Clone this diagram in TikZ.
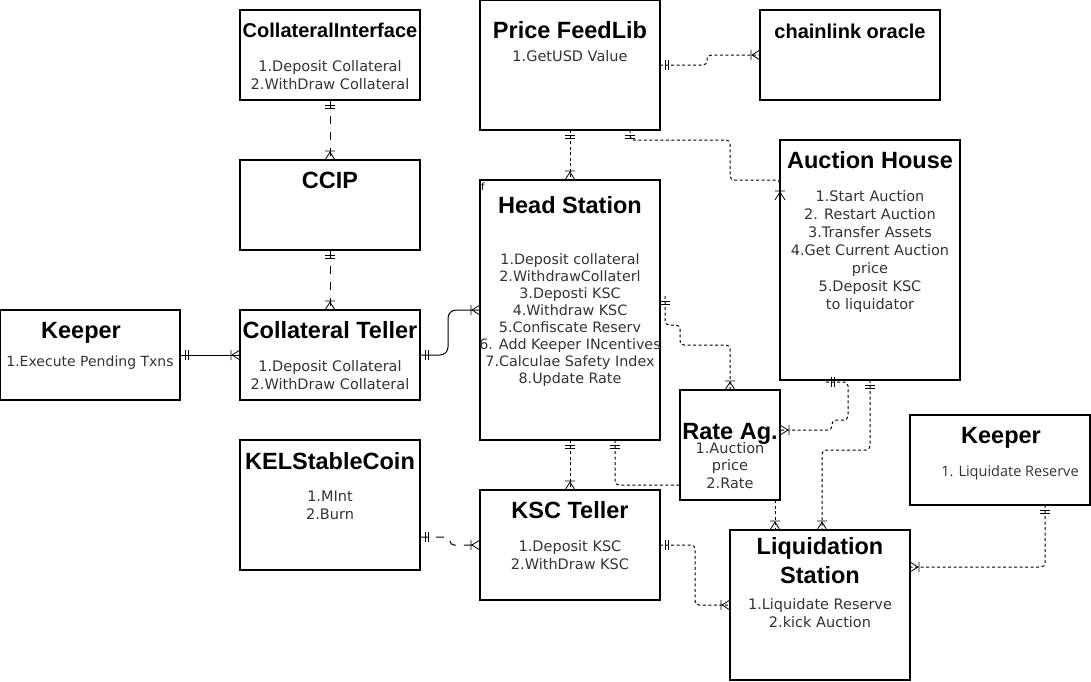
\documentclass[tikz,border=0pt]{standalone}
\usepackage{fontspec}
\setmainfont{DejaVu Sans}
\newfontfamily\titlefont{Liberation Sans}
\newfontfamily\keeperfont{Open Sans}
\usetikzlibrary{decorations.markings,calc}
\tikzset{
  box/.style={draw, line width=1.1pt, inner sep=0pt, outer sep=0pt, anchor=north west},
  ttl/.style={font=\titlefont\bfseries\fontsize{23.5}{28}\selectfont, anchor=base, inner sep=0pt, align=center},
  ttlsmall/.style={font=\titlefont\bfseries\fontsize{20}{24}\selectfont, anchor=base, inner sep=0pt},
  body/.style={font=\fontsize{14.5}{18}\selectfont, text=black!80, align=center, anchor=base, inner sep=0pt},
  conn/.style={line width=1pt, rounded corners=4pt},
  dsh/.style={dash pattern=on 3pt off 2.5pt},
  ldsh/.style={dash pattern=on 8pt off 8pt},
  mone/.style={postaction={decorate, decoration={markings,
      mark=at position 0 with {\draw[solid, line width=0.8pt] (5,-5)--(5,5) (8,-5)--(8,5);}}}},
  cfoot/.style={postaction={decorate, decoration={markings,
      mark=at position 1 with {\draw[solid, line width=0.8pt] (-8,0)--(0,5) (-8,0)--(0,-5) (-9,-5)--(-9,5);}}}},
}
\begin{document}
\begin{tikzpicture}[x=1pt, y=-1pt]
\useasboundingbox (0,0) rectangle (1091,681);
% boxes
\node[box, minimum width=180, minimum height=90]  (ci)   at (240,10)  {};
\node[box, minimum width=180, minimum height=130] (pf)   at (480,0)   {};
\node[box, minimum width=180, minimum height=90]  (cl)   at (760,10)  {};
\node[box, minimum width=180, minimum height=90]  (ccip) at (240,160) {};
\node[box, minimum width=180, minimum height=260] (hs)   at (480,180) {};
\node[box, minimum width=180, minimum height=240] (ah)   at (780,140) {};
\node[box, minimum width=180, minimum height=90]  (kl)   at (0,310)   {};
\node[box, minimum width=180, minimum height=90]  (ct)   at (240,310) {};
\node[box, minimum width=100, minimum height=110] (ra)   at (680,390) {};
\node[box, minimum width=180, minimum height=90]  (kr)   at (910,415) {};
\node[box, minimum width=180, minimum height=130] (kel)  at (240,440) {};
\node[box, minimum width=180, minimum height=110] (ksc)  at (480,490) {};
\node[box, minimum width=180, minimum height=150] (ls)   at (730,530) {};
% texts (anchor base = baseline of the last line)
\node[ttlsmall] (ciT) at (330,37) {CollateralInterface};
\node[body] (ciB) at (330,89) {1.Deposit Collateral\\2.WithDraw Collateral};
\node[ttl] (pfT) at (570,38) {Price FeedLib};
\node[body] (pfB) at (570,61) {1.GetUSD Value};
\node[ttlsmall] (clT) at (850,38) {chainlink oracle};
\node[ttl] (ccipT) at (330,188) {CCIP};
\node[font=\fontsize{10}{12}\selectfont, anchor=base, inner sep=0pt] (hsF) at (483,190) {f};
\node[ttl] (hsT) at (570,213) {Head Station};
\node[body, font=\fontsize{14.3}{16.9}\selectfont] (hsB) at (570,383) {1.Deposit collateral\\2.WithdrawCollaterl\\3.Deposti KSC\\4.Withdraw KSC\\5.Confiscate Reserv\\6. Add Keeper INcentives\\7.Calculae Safety Index\\8.Update Rate};
\node[ttl] (ahT) at (870,168) {Auction House};
\node[body] (ahB) at (870,309) {1.Start Auction\\2. Restart Auction\\3.Transfer Assets\\4.Get Current Auction\\price\\5.Deposit KSC\\to liquidator};
\node[ttl] (klT) at (81,338) {Keeper};
\node[body, font=\fontsize{14}{18}\selectfont] (klB) at (90,366) {1.Execute Pending Txns};
\node[ttl] (ctT) at (330,338) {Collateral Teller};
\node[body] (ctB) at (330,389) {1.Deposit Collateral\\2.WithDraw Collateral};
\node[ttl] (raT) at (730,439) {Rate Ag.};
\node[body, font=\fontsize{14.5}{17.5}\selectfont] (raB) at (730,488) {1.Auction\\price\\2.Rate};
\node[ttl] (krT) at (1001,443) {Keeper};
\node[body, font=\keeperfont\fontsize{14.5}{18}\selectfont] (krB) at (1010,476) {1. Liquidate Reserve};
\node[ttl] (kelT) at (330,469) {KELStableCoin};
\node[body] (kelB) at (330,519) {1.MInt\\2.Burn};
\node[ttl] (kscT) at (570,518) {KSC Teller};
\node[body] (kscB) at (570,569) {1.Deposit KSC\\2.WithDraw KSC};
\node[ttl, font=\titlefont\bfseries\fontsize{23.5}{29}\selectfont] (lsT) at (820,583) {Liquidation\\Station};
\node[body] (lsB) at (820,627) {1.Liquidate Reserve\\2.kick Auction};
% connectors
\draw[conn, ldsh, mone, cfoot] (ci.south) -- (ccip.north);
\draw[conn, ldsh, mone, cfoot] (ccip.south) -- (ct.north);
\draw[conn, mone, cfoot] (kl.east) -- (ct.west);
\draw[conn, rounded corners=8pt, mone, cfoot] (ct.east) -- ++(28,0) |- ($(hs.north west)+(0,130)$);
\draw[conn, dsh, mone, cfoot] (pf.south) -- (hs.north);
\draw[conn, dsh, mone, cfoot] ($(pf.south west)+(150,0)$) -- ++(0,10) -- (730,140) -- (730,180) -- (780,180) -- ($(ah.north west)+(0,60)$);
\draw[conn, dsh, mone, cfoot] (pf.east) -- ++(47,0) |- (cl.west);
\draw[conn, dsh, mone, cfoot] ($(hs.north east)+(5,116)$) -- (665,325) -- (680,325) -- (680,345) -- (730,345) -- (ra.north);
\draw[conn, dsh, mone, cfoot] (hs.south) -- (ksc.north);
\draw[conn, dsh, mone] ($(hs.south west)+(135,0)$) |- ($(ra.north west)+(0,95)$);
\draw[conn, dsh, mone, cfoot] ($(ah.south west)+(46,2)$) -- (848,382) -- (848,420) -- (832,420) -- (832,430) -- ($(ra.north east)+(0,40)$);
\draw[conn, dsh, mone, cfoot] ($(ah.south west)+(90,0)$) -- (870,450) -| ($(ls.north west)+(92,0)$);
\draw[conn, dsh, cfoot] ($(ra.south west)+(95,0)$) -- ($(ls.north west)+(45,0)$);
\draw[conn, dsh, mone, cfoot] (ksc.east) -- ++(35,0) |- (ls.west);
\draw[conn, dsh, mone, cfoot] ($(kr.south west)+(135,0)$) |- ($(ls.north east)+(0,37)$);
\draw[conn, ldsh, mone, cfoot] ($(kel.north east)+(0,97)$) -- (450,537) |- (ksc.west);
\end{tikzpicture}
\end{document}
